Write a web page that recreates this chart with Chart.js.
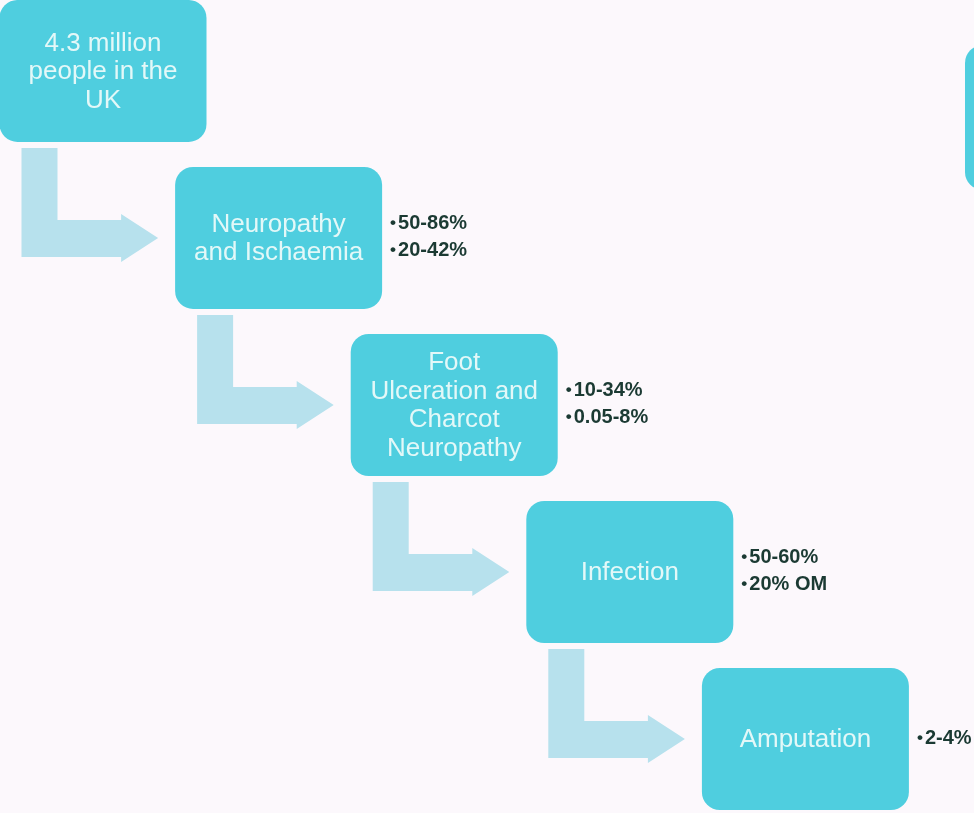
<!DOCTYPE html>
<html>
<head>
<meta charset="utf-8">
<title>Diabetic foot cascade</title>
<script src="https://cdn.jsdelivr.net/npm/chart.js@4/dist/chart.umd.min.js"></script>
<style>
  html, body { margin: 0; padding: 0; background: #fcf8fc; }
  #wrap { position: relative; width: 974px; height: 813px; }
</style>
</head>
<body>
<div id="wrap"><canvas id="cascade"></canvas></div>
<script>
// stages of the cascade, top-left to bottom-right
const stageNames = [
  ['4.3 million', 'people in the', 'UK'],
  ['Neuropathy', 'and Ischaemia'],
  ['Foot', 'Ulceration and', 'Charcot', 'Neuropathy'],
  ['Infection'],
  ['Amputation'],
];
// prevalence figures listed beside each stage
const stageRates = [
  [],
  ['50-86%', '20-42%'],
  ['10-34%', '0.05-8%'],
  ['50-60%', '20% OM'],
  ['2-4%'],
];
// step of each stage along the staircase (column and row)
const stageStep = [0, 1, 2, 3, 4];

const BOX_FILL = '#4fcedf';
const BOX_TEXT = '#e3f8f8';
const ARROW_FILL = '#b7e1ed';
const RATE_TEXT = '#1b3a33';
const BOX_W = 207, BOX_H = 142, RADIUS = 18;
const SANS = 'Arial, "Liberation Sans", sans-serif';

function roundBox(ctx, x, y, w, h, r) {
  ctx.beginPath();
  ctx.roundRect(x, y, w, h, r);
  ctx.fill();
}

// bent arrow from the foot of one box round to the left side of the next
function bentArrow(ctx, p, q) {
  const left = p.x - BOX_W / 2 + 22, right = left + 36;
  const top = p.y + BOX_H / 2 + 6;
  const headBase = q.x - BOX_W / 2 - 54, tip = q.x - BOX_W / 2 - 17;
  ctx.beginPath();
  ctx.moveTo(left, top);
  ctx.lineTo(right, top);
  ctx.lineTo(right, q.y - 18);
  ctx.lineTo(headBase, q.y - 18);
  ctx.lineTo(headBase, q.y - 24);
  ctx.lineTo(tip, q.y);
  ctx.lineTo(headBase, q.y + 24);
  ctx.lineTo(headBase, q.y + 19);
  ctx.lineTo(left, q.y + 19);
  ctx.closePath();
  ctx.fill();
}

const cascadePlugin = {
  id: 'cascade',
  afterDatasetsDraw(chart) {
    const ctx = chart.ctx;
    const pts = chart.getDatasetMeta(0).data;
    ctx.save();

    // arrows first so the boxes sit on top
    ctx.fillStyle = ARROW_FILL;
    for (let i = 0; i < pts.length - 1; i++) bentArrow(ctx, pts[i], pts[i + 1]);

    pts.forEach((pt, i) => {
      ctx.fillStyle = BOX_FILL;
      roundBox(ctx, pt.x - BOX_W / 2, pt.y - BOX_H / 2, BOX_W, BOX_H, RADIUS);

      // stage name
      const lines = stageNames[i];
      const lh = 28.5;
      ctx.fillStyle = BOX_TEXT;
      ctx.font = '26px ' + SANS;
      ctx.textAlign = 'center';
      ctx.textBaseline = 'middle';
      lines.forEach((t, k) => {
        ctx.fillText(t, pt.x, pt.y - (lines.length - 1) * lh / 2 + k * lh + 1);
      });

      // figures to the right
      const rates = stageRates[i];
      const rh = 26.5;
      const bx = pt.x + BOX_W / 2 + 11;
      ctx.fillStyle = RATE_TEXT;
      ctx.textAlign = 'left';
      rates.forEach((t, k) => {
        const y = pt.y - (rates.length - 1) * rh / 2 + k * rh - 1;
        ctx.font = 'bold 17px ' + SANS;
        ctx.fillText('•', bx - 3, y);
        ctx.font = 'bold 20px ' + SANS;
        ctx.fillText(t, bx + 5, y);
      });
    });

    // box continuing off the right edge
    const area = chart.chartArea;
    ctx.fillStyle = BOX_FILL;
    roundBox(ctx, area.right - 9, area.top + 45, 60, 145, RADIUS);

    ctx.restore();
  }
};

new Chart(document.getElementById('cascade'), {
  type: 'scatter',
  data: {
    datasets: [{
      label: 'Stages',
      data: stageStep.map(s => ({ x: s, y: s })),
      pointRadius: 0,
      pointHoverRadius: 0,
    }],
  },
  options: {
    responsive: true,
    maintainAspectRatio: false,
    animation: false,
    layout: { padding: 0 },
    plugins: {
      legend: { display: false },
      tooltip: { enabled: false },
      title: { display: false },
    },
    scales: {
      x: { type: 'linear', display: false, min: -0.5866, max: 4.9601 },
      y: { type: 'linear', display: false, reverse: true, min: -0.4251, max: 4.4431 },
    },
  },
  plugins: [cascadePlugin],
});
</script>
</body>
</html>
